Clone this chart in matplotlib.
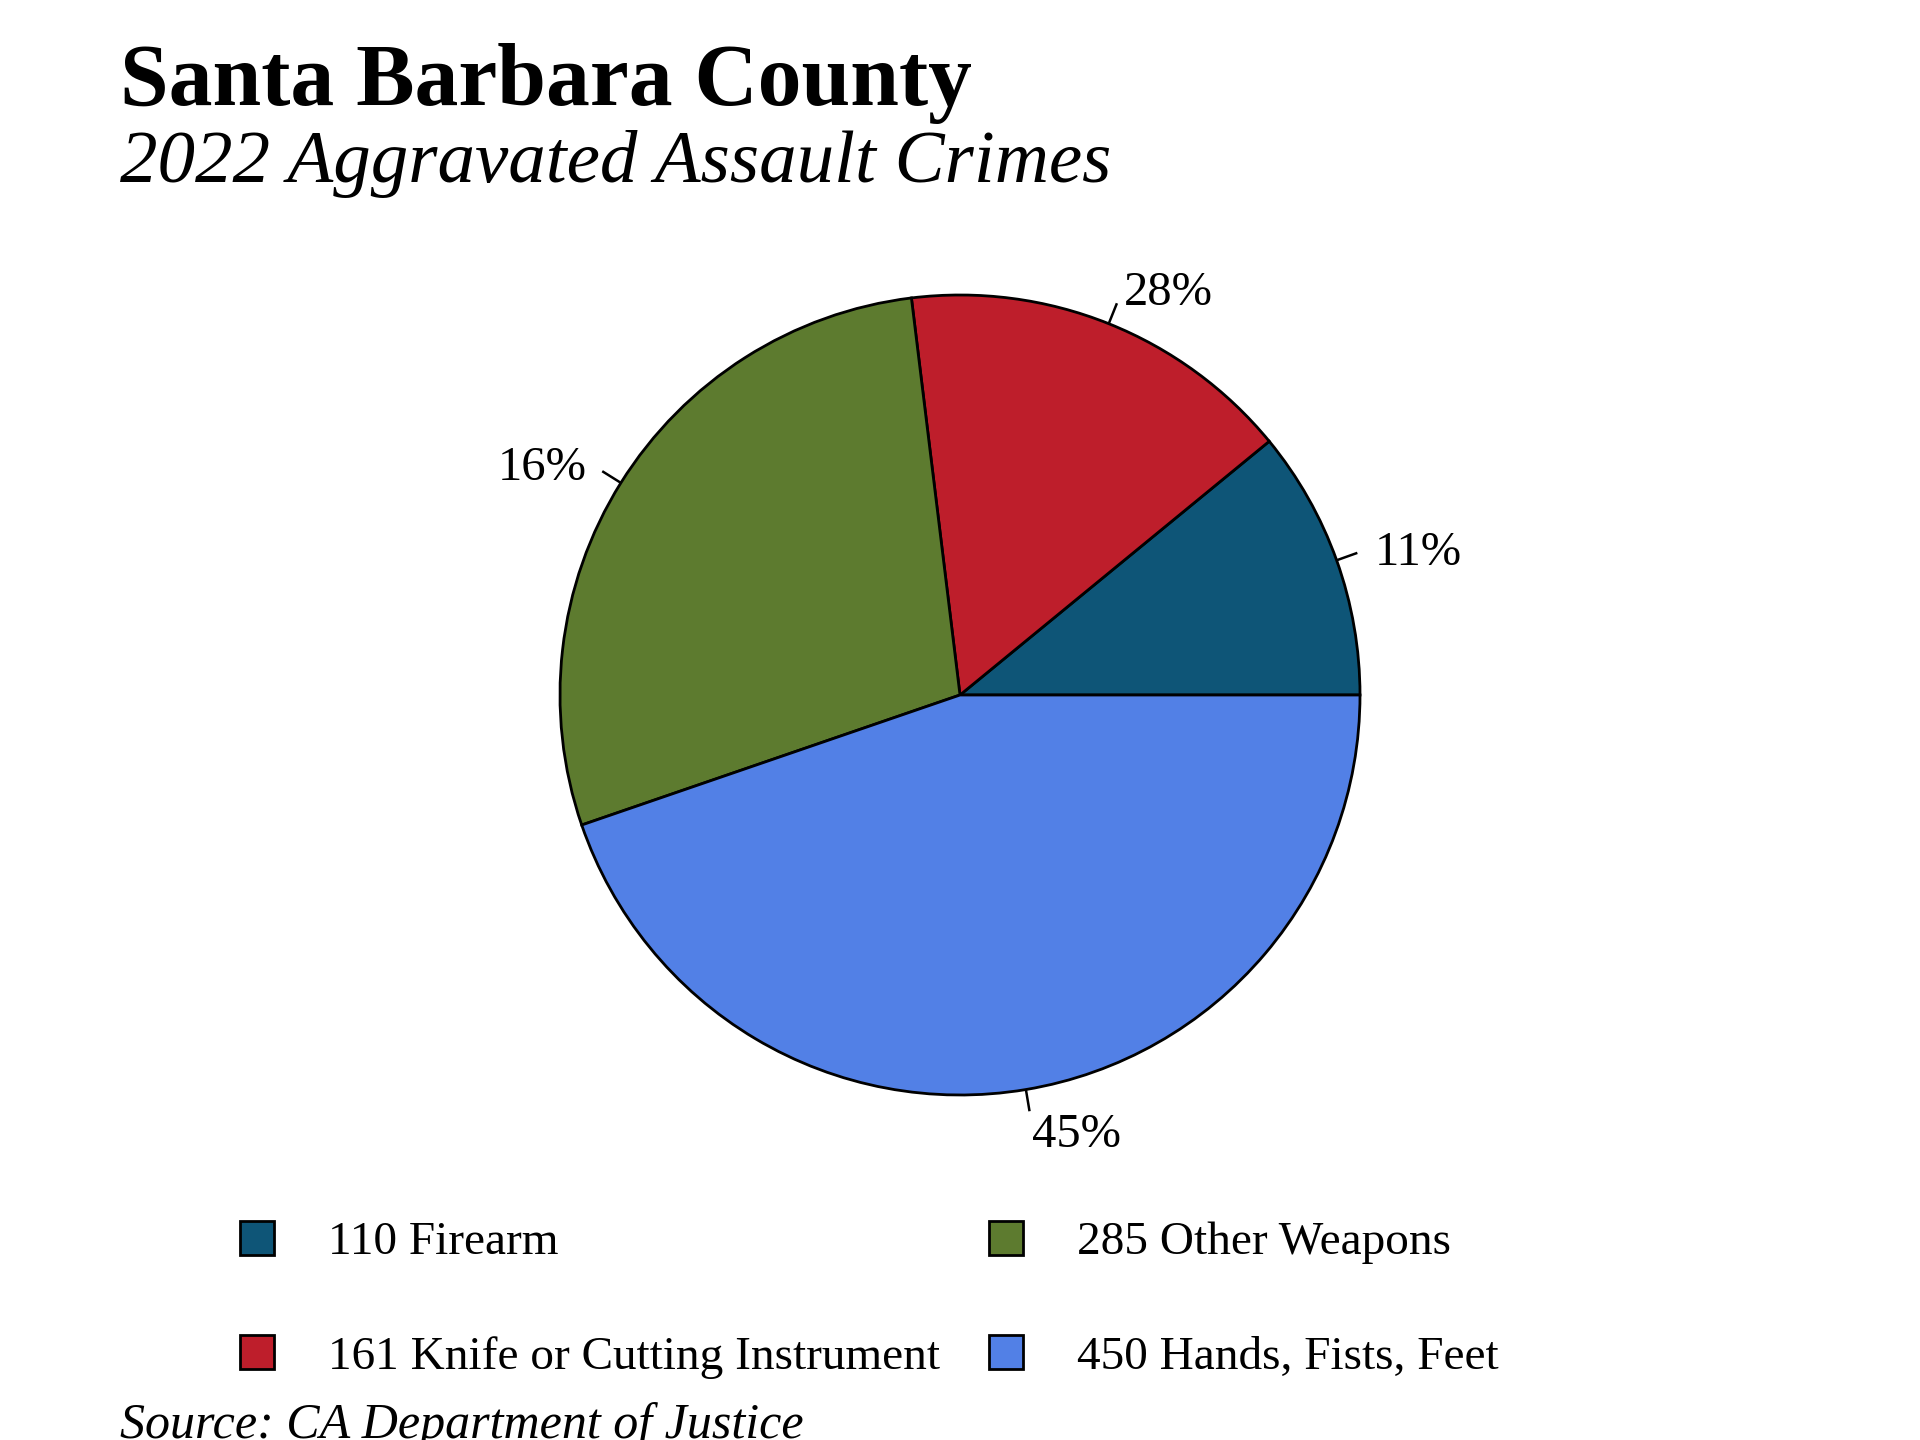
import numpy as np
import matplotlib
matplotlib.use("Agg")
import matplotlib.pyplot as plt
from matplotlib.patches import Patch

plt.rcParams['font.family'] = ['Liberation Serif', 'DejaVu Serif']

# ---- data ----
categories = ["Firearm", "Knife or Cutting Instrument", "Other Weapons", "Hands, Fists, Feet"]
counts = [110, 161, 285, 450]
pct_labels = ["11%", "28%", "16%", "45%"]   # as printed on the reference
colors = ["#0E5577", "#BE1E2B", "#5D7B2F", "#5280E6"]
title = "Santa Barbara County"
subtitle = "2022 Aggravated Assault Crimes"
source = "Source: CA Department of Justice"

W, H = 1920, 1440
fig = plt.figure(figsize=(9.6, 7.2), dpi=200)

cx, cy, r = 960, 695, 400
ax = fig.add_axes([(cx - r) / W, (H - cy - r) / H, 2 * r / W, 2 * r / H])
wedges, _ = ax.pie(counts, colors=colors, startangle=0, counterclock=True,
                   radius=1.0, wedgeprops=dict(edgecolor="black", linewidth=1.0))
ax.set_xlim(-1, 1)
ax.set_ylim(-1, 1)
ax.set_aspect("equal")
ax.axis("off")

for w, lab in zip(wedges, pct_labels):
    ang = np.deg2rad((w.theta1 + w.theta2) / 2)
    c, s = np.cos(ang), np.sin(ang)
    ax.plot([c * 1.0, c * 1.055], [s * 1.0, s * 1.055], color="black",
            linewidth=0.9, clip_on=False, solid_capstyle="butt")
    ax.text(c * 1.1, s * 1.1 - 0.015, lab, ha="left" if c > 0 else "right", va="center",
            fontsize=17.5, clip_on=False)

fig.text(120 / W, 1 - 105 / H, title, fontsize=31.5, fontweight="bold",
         ha="left", va="baseline")
fig.text(120 / W, 1 - 182 / H, subtitle, fontsize=27, fontstyle="italic",
         ha="left", va="baseline")

handles = [Patch(facecolor=col, edgecolor="black", linewidth=1.0) for col in colors]
labels = [f"{n} {c}" for n, c in zip(counts, categories)]
fig.legend(handles, labels, ncol=2, loc="upper left",
           bbox_to_anchor=(240 / W, 1 - 1221 / H), frameon=False,
           fontsize=17, handlelength=0.72, handleheight=0.72, handletextpad=1.14,
           columnspacing=1.04, labelspacing=1.5, borderpad=0, borderaxespad=0)

fig.text(120 / W, 1 - 1438 / H, source, fontsize=18, fontstyle="italic",
         ha="left", va="baseline")

fig.savefig("out.png", dpi=200, facecolor="white")
